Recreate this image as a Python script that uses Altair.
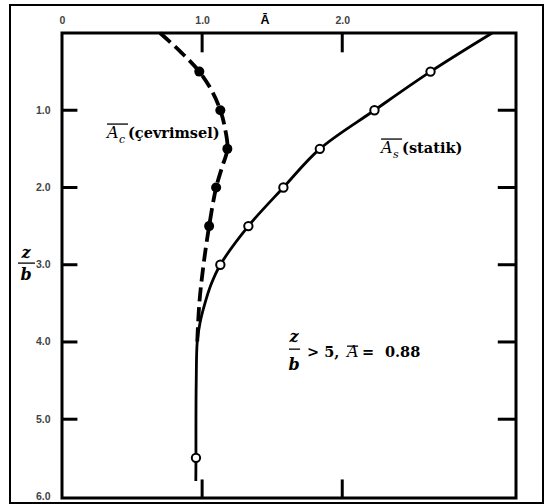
import altair as alt
import pandas as pd

# Static loading: depth ratio z/b vs. normalised A (open circles + solid curve)
static_z = [0.5, 1.0, 1.5, 2.0, 2.5, 3.0, 5.5]
static_a = [2.63, 2.23, 1.84, 1.58, 1.33, 1.13, 0.956]
static_curve_z = [0.0, 0.5, 1.0, 1.5, 2.0, 2.5, 3.0, 3.25, 3.5, 3.75, 4.0, 4.5, 5.0, 5.5, 5.8]
static_curve_a = [3.07, 2.63, 2.23, 1.84, 1.58, 1.33, 1.13, 1.065, 1.02, 0.985, 0.965, 0.958, 0.956, 0.956, 0.955]

# Cyclic loading (filled circles + dashed curve)
cyclic_z = [0.5, 1.0, 1.5, 2.0, 2.5]
cyclic_a = [0.98, 1.13, 1.18, 1.10, 1.05]
cyclic_curve_z = [0.0, 0.25, 0.5, 0.75, 1.0, 1.25, 1.5, 1.75, 2.0, 2.5, 3.0, 3.5, 4.0]
cyclic_curve_a = [0.70, 0.85, 0.98, 1.07, 1.13, 1.165, 1.18, 1.14, 1.10, 1.05, 1.01, 0.98, 0.965]

# Axis ticks
x_tick_values = [0.0, 1.0, 2.0]
y_tick_values = [1.0, 2.0, 3.0, 4.0, 5.0, 6.0]
inner_y_ticks = [1.0, 2.0, 3.0, 4.0, 5.0]
inner_x_ticks = [1.0, 2.0]

X_MAX = 3.24
Y_MAX = 6.02

xs = alt.Scale(domain=[0, X_MAX], nice=False, zero=False)
ys = alt.Scale(domain=[0, Y_MAX], nice=False, zero=False, reverse=True)

x_axis = alt.Axis(
    orient="top", values=x_tick_values, title=None, grid=False, domain=False,
    ticks=False, tickSize=0, labelPadding=8,
    labelExpr="datum.value == 0 ? '0' : format(datum.value, '.1f')",
    labelFont="Liberation Sans", labelFontWeight="bold", labelFontSize=10.5,
    labelColor="#444", labelFlush=False,
)
y_axis = alt.Axis(
    orient="left", values=y_tick_values, title=None, grid=False, domain=False,
    ticks=False, tickSize=0, labelPadding=12, format=".1f",
    labelFont="Liberation Sans", labelFontWeight="bold", labelFontSize=10.5,
    labelColor="#444", labelFlush=False,
)


def X(field):
    return alt.X(field, type="quantitative", scale=xs, axis=x_axis)


def Y(field):
    return alt.Y(field, type="quantitative", scale=ys, axis=y_axis)


static_curve = pd.DataFrame({"a": static_curve_a, "z": static_curve_z,
                             "i": range(len(static_curve_z))})
cyclic_curve = pd.DataFrame({"a": cyclic_curve_a, "z": cyclic_curve_z,
                             "i": range(len(cyclic_curve_z))})
static_pts = pd.DataFrame({"a": static_a, "z": static_z})
cyclic_pts = pd.DataFrame({"a": cyclic_a, "z": cyclic_z})

# inward ticks on all four sides
tick_rows = []
for v in inner_y_ticks:
    tick_rows.append({"a": 0.0, "a2": 0.11, "z": v, "z2": v})
    tick_rows.append({"a": X_MAX - 0.13, "a2": X_MAX, "z": v, "z2": v})
for v in inner_x_ticks:
    tick_rows.append({"a": v, "a2": v, "z": 0.0, "z2": 0.25})
    tick_rows.append({"a": v, "a2": v, "z": Y_MAX - 0.24, "z2": Y_MAX})
ticks = pd.DataFrame(tick_rows)

line_static = alt.Chart(static_curve).mark_line(
    color="black", strokeWidth=2.8, interpolate="catmull-rom"
).encode(x=X("a"), y=Y("z"), order="i:Q")

line_cyclic = alt.Chart(cyclic_curve).mark_line(
    color="black", strokeWidth=3.8, strokeDash=[14, 6], interpolate="catmull-rom"
).encode(x=X("a"), y=Y("z"), order="i:Q")

pts_static = alt.Chart(static_pts).mark_point(
    shape="circle", filled=True, fill="white", stroke="black",
    strokeWidth=2, size=70, opacity=1
).encode(x=X("a"), y=Y("z"))

pts_cyclic = alt.Chart(cyclic_pts).mark_circle(
    color="black", size=100, opacity=1
).encode(x=X("a"), y=Y("z"))

tick_marks = alt.Chart(ticks).mark_rule(color="black", strokeWidth=3).encode(
    x=X("a"), x2="a2", y=Y("z"), y2="z2"
)


def text_layer(rows, **style):
    df = pd.DataFrame(rows, columns=["a", "z", "t"])
    base = dict(color="black", baseline="alphabetic", align="left", font="DejaVu Serif")
    base.update(style)
    return alt.Chart(df).mark_text(**base).encode(x=X("a"), y=Y("z"), text="t:N")


# italic symbol letters
ital = text_layer(
    [(0.321, 1.36, "A"), (2.277, 1.554, "A"), (2.034, 4.197, "A")],
    fontStyle="italic", fontSize=16,
)
subs = text_layer(
    [(0.407, 1.43, "c"), (2.363, 1.62, "s")],
    fontStyle="italic", fontSize=11,
)
bold_words = text_layer(
    [(0.471, 1.36, "(çevrimsel)"), (2.427, 1.554, "(statik)"),
     (1.749, 4.197, "> 5,"), (2.141, 4.197, "="), (2.305, 4.197, "0.88")],
    fontWeight="bold", fontSize=14.5,
)
frac_letters = text_layer(
    [(1.656, 4.003, "z"), (1.656, 4.365, "b"), (-0.257, 2.915, "z"), (-0.257, 3.2, "b")],
    fontWeight="bold", fontStyle="italic", fontSize=16, align="center",
)
top_title = text_layer(
    [(1.449, -0.168, "Ā")],
    font="Liberation Sans", fontWeight="bold", fontSize=12.5, align="center",
    baseline="middle",
)

bars = pd.DataFrame([
    {"a": 0.321, "a2": 0.471, "z": 1.179, "z2": 1.179},
    {"a": 2.277, "a2": 2.427, "z": 1.373, "z2": 1.373},
    {"a": 2.034, "a2": 2.113, "z": 4.054, "z2": 4.054},
    {"a": 1.620, "a2": 1.699, "z": 4.093, "z2": 4.093},
    {"a": -0.314, "a2": -0.193, "z": 2.979, "z2": 2.979},
])
bar_marks = alt.Chart(bars).mark_rule(color="black", strokeWidth=1.3).encode(
    x=X("a"), x2="a2", y=Y("z"), y2="z2"
)

# page frame around the whole figure
frame = alt.Chart(pd.DataFrame({"k": [0]})).mark_rect(
    fillOpacity=0, stroke="black", strokeWidth=2
).encode(
    x=alt.value(-52), x2=alt.value(481), y=alt.value(-28), y2=alt.value(470)
)

chart = alt.layer(
    frame, line_static, line_cyclic, pts_static, pts_cyclic, tick_marks,
    bar_marks, ital, subs, bold_words, frac_letters, top_title,
).properties(
    width=454, height=465,
    autosize=alt.AutoSizeParams(type="none"),
    padding={"left": 62, "top": 33, "right": 29, "bottom": 6},
    background="white",
).configure_view(stroke="black", strokeWidth=3)

chart.save("out.html", embed_options={"renderer": "svg", "actions": False})
